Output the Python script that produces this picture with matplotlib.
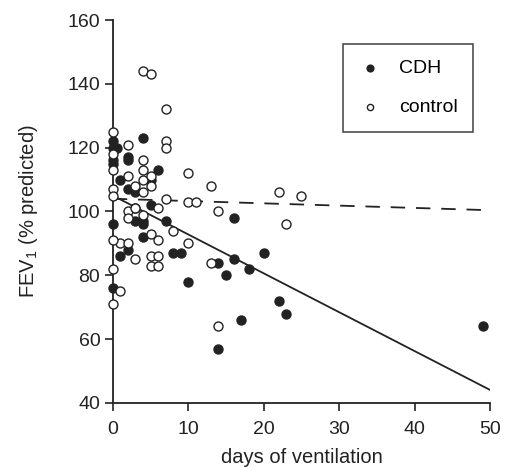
import numpy as np
import matplotlib
matplotlib.use("Agg")
import matplotlib.pyplot as plt

# CDH patients (filled)
cdh_days = [0, 0, 0, 0.5, 0, 0, 0, 4, 2, 2, 6, 1, 2, 3, 5, 3, 5, 3, 4, 4,
            7, 16, 4, 2, 1, 8, 9, 10, 14, 15, 16, 18, 17, 14, 20, 22, 23, 49]
cdh_fev = [122, 120, 116, 120, 115, 96, 76, 123, 116, 117, 113, 110, 107, 106, 110, 101, 102, 97, 97, 96,
           97, 98, 92, 88, 86, 87, 87, 78, 84, 80, 85, 82, 66, 57, 87, 72, 68, 64]

# controls (open)
ctrl_days = [4, 5, 7, 7, 7, 0, 0, 0, 0, 0, 2, 4, 10, 13, 10, 11, 7, 14, 22, 25, 23,
             2, 3, 4, 4, 5, 4, 5, 2, 2, 6, 1, 2, 3, 5, 6, 5, 6, 0, 0, 1, 0, 14, 13, 10, 8, 5, 6, 3, 4]
ctrl_fev = [144, 143, 132, 122, 120, 125, 118, 113, 107, 105, 121, 116, 112, 108, 103, 103, 104, 100, 106, 105, 96,
            111, 108, 113, 110, 111, 106, 108, 100, 98, 101, 90, 90, 85, 86, 86, 83, 83, 91, 82, 75, 71, 64, 84, 90, 94, 93, 91, 101, 99]

# regression lines: intercept, slope, last day
cdh_fit = (105.0, -1.22, 50)
ctrl_fit = (104.0, -0.072, 49)

plt.rcParams['font.family'] = ['Liberation Sans', 'DejaVu Sans']
plt.rcParams['mathtext.default'] = 'regular'

fig = plt.figure(figsize=(5.08, 4.70), dpi=100)
ax = fig.add_axes([0.222, 0.143, 0.743, 0.814])

ink = '#222222'
ax.scatter(cdh_days, cdh_fev, s=42, color=ink, edgecolor=ink, linewidths=1, zorder=3, label='CDH', clip_on=False)
ax.scatter(ctrl_days, ctrl_fev, s=42, facecolor='white', edgecolor=ink, linewidths=1, zorder=3, label='control', clip_on=False)

xx = np.array([0, cdh_fit[2]])
ax.plot(xx, cdh_fit[0] + cdh_fit[1] * xx, color=ink, lw=1.3, zorder=2)
xx = np.array([0, ctrl_fit[2]])
ax.plot(xx, ctrl_fit[0] + ctrl_fit[1] * xx, color=ink, lw=1.3, ls=(0, (8, 6)), zorder=2)

ax.set_xlim(0, 50)
ax.set_ylim(40, 160)
ax.set_xticks([0, 10, 20, 30, 40, 50])
ax.set_yticks([40, 60, 80, 100, 120, 140, 160])
for s in ['top', 'right']:
    ax.spines[s].set_visible(False)
for s in ['left', 'bottom']:
    ax.spines[s].set_linewidth(1.3)
    ax.spines[s].set_color(ink)
ax.tick_params(direction='out', length=6, width=1.2, colors=ink, labelsize=14, pad=3)
ax.tick_params(axis='x', pad=7)

ax.set_xlabel('days of ventilation', fontsize=14.5, color=ink, labelpad=7)
ax.set_ylabel('FEV$_1$ (% predicted)', fontsize=14.5, color=ink, labelpad=20)

leg = ax.legend(loc='upper right', bbox_to_anchor=(0.955, 0.937), fontsize=14, frameon=True,
                fancybox=False, markerscale=0.75, handletextpad=0.9, labelspacing=1.1,
                borderpad=0.8, handlelength=1.2, borderaxespad=0)
leg.get_frame().set_edgecolor(ink)
leg.get_frame().set_linewidth(1.2)
leg.legend_handles[1].set_sizes([20])

fig.savefig('out.png', dpi=100)
